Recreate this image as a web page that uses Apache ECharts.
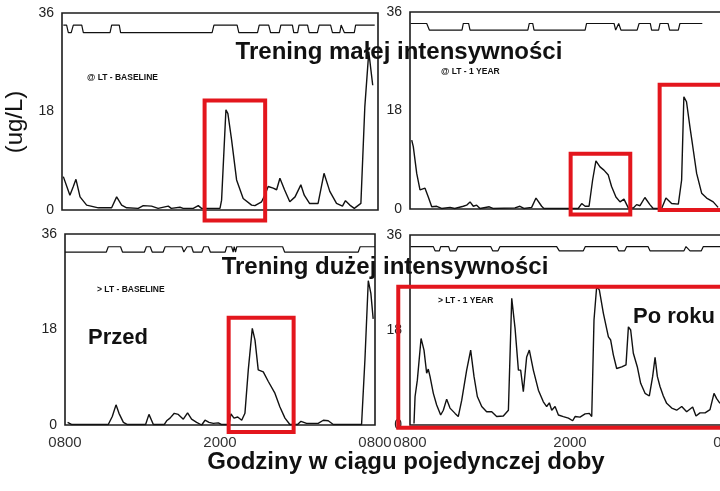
<!DOCTYPE html>
<html>
<head>
<meta charset="utf-8">
<script src="https://cdn.jsdelivr.net/npm/echarts@6/dist/echarts.min.js"></script>
<style>
  html, body { margin: 0; padding: 0; background: #fff; }
  #chart { width: 720px; height: 491px; }
</style>
</head>
<body>
<div id="chart"></div>
<script>
// x ticks: hours after 08:00 -> clock label
var hourTicks = ['0800', '2000', '0800'];

// GH level (ug/L) vs hours after 0800
var tlLevel = [[0.1,6.1],[0.6,2.7],[0.86,4.3],[1.06,5.6],[1.37,2.4],[1.87,0.9],[2.76,0.4],[3.77,0.4],[4.15,2.4],[4.53,0.9],[4.91,0.4],[5.79,0.3],[6.17,0.8],[6.8,0.7],[7.3,0.3],[8.07,0.7],[8.3,0.3],[8.96,0.5],[9.2,0.3],[9.97,0.3],[10.35,0.8],[10.6,0.3],[12.0,0.3],[12.12,1.8],[12.45,18.3],[12.6,17.6],[12.88,12.8],[13.26,5.5],[13.76,2.1],[14.4,0.9],[14.65,0.8],[15.16,1.5],[15.4,2.7],[15.66,4.3],[16.04,4.0],[16.3,3.7],[16.55,5.8],[16.9,3.7],[17.3,1.5],[17.7,2.4],[18.14,4.6],[18.4,2.7],[18.8,1.2],[19.45,1.2],[19.9,6.7],[20.34,3.4],[20.85,1.2],[21.3,0.7],[21.53,1.7],[21.86,0.9],[22.2,0.3],[22.7,1.2],[23.0,18.9],[23.3,28.9],[23.6,22.8]];
var trLevel = [[0.13,12.6],[0.25,11.4],[0.51,6.5],[0.76,3.5],[1.14,3.8],[1.39,2.2],[1.65,0.4],[2.03,0.5],[2.4,0.1],[3.04,0.3],[3.4,0.1],[4.05,0.5],[4.3,0.7],[4.56,1.3],[4.81,0.5],[5.06,0.7],[5.32,0.1],[6.02,0.4],[6.3,0.1],[7.97,0.2],[8.35,0.5],[8.65,0.1],[9.24,0.3],[9.57,2.0],[10.0,0.5],[10.17,0.1],[12.78,0.1],[13.04,1.0],[13.3,0.5],[13.6,0.5],[13.87,5.3],[14.12,8.8],[14.43,7.7],[14.73,7.1],[15.06,6.2],[15.31,4.1],[15.64,2.2],[15.95,1.3],[16.25,1.8],[16.58,0.2],[16.96,0.2],[17.21,0.8],[17.47,0.6],[17.84,2.1],[18.22,0.8],[18.47,0.1],[19.11,0.1],[19.44,2.0],[19.87,1.0],[20.38,0.9],[20.63,5.3],[20.8,20.5],[21.0,19.6],[21.26,15.0],[21.46,11.7],[21.77,6.5],[22.15,2.9],[22.53,2.0],[23.03,1.3],[23.4,0.3]];
var blLevel = [[0.2,0.5],[0.5,0.1],[3.35,0.1],[3.66,1.6],[3.95,3.8],[4.18,2.2],[4.52,0.5],[4.8,0.1],[6.24,0.1],[6.5,2.0],[6.84,0.1],[7.69,0.1],[7.87,0.8],[8.13,1.3],[8.46,2.2],[8.77,2.0],[9.16,1.1],[9.49,2.3],[9.8,1.1],[10.19,0.5],[10.58,0.0],[10.84,0.9],[11.15,0.5],[11.48,0.3],[11.87,0.4],[12.1,0.1],[12.69,0.1],[12.85,2.1],[13.08,1.3],[13.37,1.5],[13.68,0.9],[13.93,2.2],[14.19,10.4],[14.5,18.2],[14.71,16.0],[14.96,10.4],[15.35,10.0],[15.74,8.2],[16.25,6.0],[16.64,3.4],[17.03,1.3],[17.41,0.1],[18.0,0.1],[18.27,0.7],[18.7,0.3],[19.6,0.3],[20.0,0.9],[20.38,0.8],[20.77,0.1],[22.96,0.1],[23.22,12.3],[23.48,27.2],[23.68,24.8],[23.86,20.0]];
var brLevel = [[0.3,0.3],[0.38,5.4],[0.55,8.5],[0.83,16.4],[1.05,14.2],[1.25,9.8],[1.37,10.6],[1.5,9.2],[1.75,6.0],[2.0,3.8],[2.3,1.9],[2.5,2.8],[2.75,4.9],[3.0,3.2],[3.38,2.2],[3.62,1.6],[3.88,4.7],[4.25,10.4],[4.55,14.2],[4.8,9.2],[5.05,5.4],[5.38,3.5],[5.75,2.5],[6.13,2.5],[6.5,1.6],[7.0,1.7],[7.38,2.8],[7.63,24.0],[7.88,18.3],[8.13,10.4],[8.3,10.4],[8.5,6.3],[8.75,12.9],[8.95,14.2],[9.25,10.4],[9.63,6.6],[10.0,4.4],[10.25,3.5],[10.45,4.2],[10.63,2.8],[10.88,3.5],[11.13,1.9],[11.5,1.6],[11.88,1.3],[12.2,0.8],[12.38,1.6],[12.75,1.5],[13.13,2.1],[13.45,2.2],[13.63,1.6],[13.8,19.9],[14.0,26.2],[14.2,25.6],[14.5,21.2],[14.88,16.7],[15.05,16.1],[15.25,13.3],[15.5,10.7],[15.88,11.0],[16.2,11.4],[16.38,18.6],[16.55,18.0],[16.75,13.6],[17.05,11.0],[17.3,7.9],[17.63,6.0],[17.95,5.5],[18.2,9.2],[18.38,12.8],[18.55,9.2],[18.75,7.3],[19.0,5.5],[19.25,4.1],[19.63,3.2],[20.0,2.8],[20.38,3.5],[20.75,2.5],[21.2,3.4],[21.45,1.7],[21.75,2.3],[22.13,2.3],[22.5,2.9],[22.8,6.0],[23.0,5.0],[23.25,4.1]];

// sleep / wake trace near the top of each panel
var tlSleep = [[0.1,33.8],[0.35,33.8],[0.48,32.4],[0.7,32.4],[0.86,33.8],[1.5,33.8],[1.62,32.4],[3.65,32.4],[3.77,33.8],[4.35,33.8],[4.45,32.4],[11.4,32.4],[11.54,33.8],[13.3,33.8],[13.43,32.4],[14.85,32.4],[14.98,33.8],[15.7,33.8],[15.84,32.4],[16.5,32.4],[16.62,33.8],[17.5,33.8],[17.6,32.4],[17.9,32.4],[18.0,33.8],[18.65,33.8],[18.77,32.4],[19.4,32.4],[19.53,33.8],[20.4,33.8],[20.54,32.4],[21.1,32.4],[21.2,33.8],[21.35,33.8],[21.45,32.4],[22.2,32.4],[22.3,33.8],[23.75,33.8]];
var trSleep = [[0.05,33.9],[1.27,33.9],[1.47,32.7],[3.95,32.7],[4.05,33.9],[4.45,33.9],[4.56,32.7],[8.95,32.7],[9.06,33.9],[9.32,33.9],[9.42,32.7],[13.3,32.7],[13.41,33.9],[15.5,33.9],[15.62,32.7],[15.75,32.7],[15.85,33.9],[15.92,33.9],[16.02,32.7],[17.25,32.7],[17.4,33.9],[18.25,33.9],[18.35,32.7],[18.88,32.7],[18.99,33.9],[19.6,33.9],[19.72,32.7],[20.38,32.7],[20.5,33.9],[22.2,33.9]];
var blSleep = [[0.0,32.6],[3.2,32.6],[3.35,33.6],[4.3,33.6],[4.45,32.6],[6.15,32.6],[6.3,33.6],[6.6,33.6],[6.75,32.6],[7.6,32.6],[7.75,33.6],[9.05,33.6],[9.2,32.6],[9.32,32.6],[9.45,33.6],[9.8,33.6],[9.93,32.6],[10.6,32.6],[10.75,33.6],[11.1,33.6],[11.25,32.6],[12.4,32.6],[12.52,33.6],[12.9,33.6],[13.02,32.6],[13.1,33.6],[13.2,32.6],[13.3,33.6],[16.85,33.6],[17.0,32.6],[22.7,32.6],[22.85,33.6],[24.0,33.6]];
var brSleep = [[0.05,33.8],[1.75,33.8],[1.88,33.0],[2.2,33.0],[2.3,33.8],[2.9,33.8],[3.0,33.0],[3.45,33.0],[3.6,33.8],[6.05,33.8],[6.2,33.0],[6.6,33.0],[6.75,33.8],[11.0,33.8],[11.2,33.0],[13.0,33.0],[13.15,33.8],[15.5,33.8],[15.65,33.0],[16.1,33.0],[16.25,33.8],[17.85,33.8],[18.0,33.0],[20.55,33.0],[20.7,33.8],[20.85,33.8],[21.0,33.0],[21.85,33.0],[22.0,33.8],[23.3,33.8]];

// highlight boxes: [panel, hourFrom, levelTop, hourTo, levelBottom]
var redBoxes = [
  [0, 10.83, 20.0, 15.43, -1.9],
  [1, 12.2, 10.1, 16.73, -1.0],
  [1, 18.96, 22.7, 24.6, -0.2],
  [2, 12.67, 20.2, 17.7, -1.3],
  [3, -0.88, 26.2, 24.6, -0.5]
];

var panelTags = ['@ LT - BASELINE', '@ LT - 1 YEAR', '> LT - BASELINE', '> LT - 1 YEAR'];

var chart = echarts.init(document.getElementById('chart'));

var panels = [
  { left: 62, top: 13, width: 316, height: 197, level: tlLevel, sleep: tlSleep, tagPos: [87, 78] },
  { left: 410, top: 12, width: 316, height: 197, level: trLevel, sleep: trSleep, tagPos: [441, 72] },
  { left: 65, top: 234, width: 310, height: 191, level: blLevel, sleep: blSleep, tagPos: [97, 290] },
  { left: 410, top: 235, width: 320, height: 190, level: brLevel, sleep: brSleep, tagPos: [438, 301] }
];

var FONT = '"Liberation Sans", Arial, sans-serif';
var grids = [], xAxes = [], yAxes = [], series = [];

panels.forEach(function (p, i) {
  grids.push({
    left: p.left, top: p.top, width: p.width, height: p.height,
    outerBoundsMode: 'none', containLabel: false,
    show: true, borderColor: '#1c1c1c', borderWidth: 1.6, backgroundColor: 'transparent'
  });
  xAxes.push({
    gridIndex: i, type: 'value', min: 0, max: 24, interval: 12,
    axisLine: { show: false }, axisTick: { show: false }, splitLine: { show: false },
    axisLabel: {
      show: i >= 2, margin: 10, fontSize: 15, color: '#333', fontFamily: FONT,
      hideOverlap: false,
      formatter: function (v) { return hourTicks[Math.round(v / 12)]; }
    }
  });
  yAxes.push({
    gridIndex: i, type: 'value', min: 0, max: 36, interval: 18,
    axisLine: { show: false }, axisTick: { show: false }, splitLine: { show: false },
    axisLabel: { margin: 8, fontSize: 14, color: '#222', fontFamily: FONT }
  });
  series.push({
    type: 'line', xAxisIndex: i, yAxisIndex: i, data: p.level,
    showSymbol: false, lineStyle: { color: '#111', width: 1.4 }
  });
  series.push({
    type: 'line', xAxisIndex: i, yAxisIndex: i, data: p.sleep,
    showSymbol: false, lineStyle: { color: '#111', width: 1.2 }
  });
});

chart.setOption({
  animation: false,
  backgroundColor: '#fff',
  grid: grids,
  xAxis: xAxes,
  yAxis: yAxes,
  series: series
});

function label(text, x, y, size, bold, align) {
  return {
    type: 'text', x: x, y: y, z: 100,
    style: {
      text: text, fill: '#111',
      font: (bold ? 'bold ' : '') + size + 'px ' + FONT,
      textAlign: align || 'left', align: align || 'left',
      textVerticalAlign: 'middle', verticalAlign: 'middle'
    }
  };
}

var elements = [];
redBoxes.forEach(function (b) {
  var a = chart.convertToPixel({ gridIndex: b[0] }, [b[1], b[2]]);
  var c = chart.convertToPixel({ gridIndex: b[0] }, [b[3], b[4]]);
  elements.push({
    type: 'rect', z: 90,
    shape: { x: Math.min(a[0], c[0]), y: Math.min(a[1], c[1]), width: Math.abs(c[0] - a[0]), height: Math.abs(c[1] - a[1]) },
    style: { fill: 'none', stroke: '#e3161d', lineWidth: 4 }
  });
});

panels.forEach(function (p, i) {
  elements.push(label(panelTags[i], p.tagPos[0], p.tagPos[1], 8.5, true));
});

elements.push(label('Trening małej intensywności', 399, 52, 24, true, 'center'));
elements.push(label('Trening dużej intensywności', 385, 267, 24, true, 'center'));
elements.push(label('Przed', 88, 338, 22, true));
elements.push(label('Po roku', 633, 317, 22, true));
elements.push(label('Godziny w ciągu pojedynczej doby', 406, 462, 24, true, 'center'));
var yTitle = label('(ug/L)', 15, 122, 24, false, 'center');
yTitle.rotation = Math.PI / 2;
elements.push(yTitle);

chart.setOption({ graphic: { elements: elements } });
</script>
</body>
</html>
